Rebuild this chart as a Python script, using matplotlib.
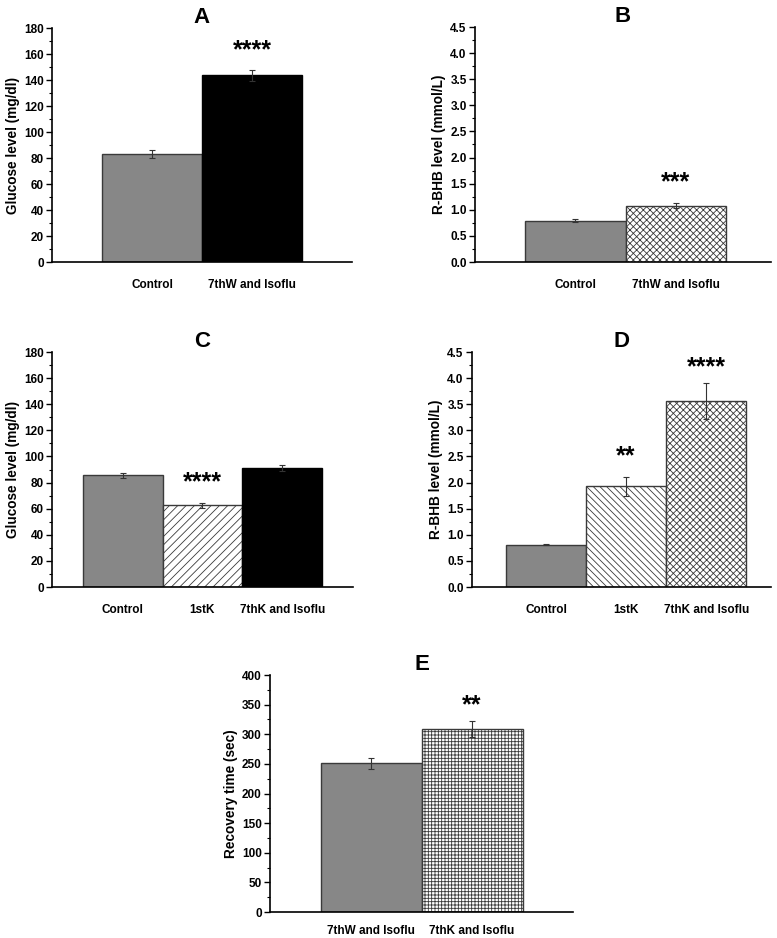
import matplotlib
matplotlib.use("Agg")
import matplotlib.pyplot as plt
from matplotlib.ticker import MultipleLocator

plt.rcParams['font.family'] = ['Liberation Sans', 'DejaVu Sans']
plt.rcParams['font.weight'] = 'bold'
plt.rcParams['hatch.linewidth'] = 0.6

# panel A
a_labels = ["Control", "7thW and Isoflu"]
a_values = [83, 143.5]
a_errors = [3, 4]
a_stars = ["", "****"]

# panel B
b_labels = ["Control", "7thW and Isoflu"]
b_values = [0.79, 1.08]
b_errors = [0.03, 0.05]
b_stars = ["", "***"]

# panel C
c_labels = ["Control", "1stK", "7thK and Isoflu"]
c_values = [85.5, 62.5, 91]
c_errors = [1.8, 2.2, 2.5]
c_stars = ["", "****", ""]

# panel D
d_labels = ["Control", "1stK", "7thK and Isoflu"]
d_values = [0.81, 1.93, 3.56]
d_errors = [0.015, 0.18, 0.34]
d_stars = ["", "**", "****"]

# panel E
e_labels = ["7thW and Isoflu", "7thK and Isoflu"]
e_values = [251, 309]
e_errors = [9, 14]
e_stars = ["", "**"]

GREY = "#878787"
W, H = 777, 938


def px_axes(fig, left, right, top, bottom):
    return fig.add_axes([left / W, (H - bottom) / H, (right - left) / W, (bottom - top) / H])


def draw_panel(ax, title, labels, values, errors, stars, colors, hatches,
               ylim, major, minor, ylabel, xlim, star_y, xpad=12):
    x = list(range(1, len(values) + 1))
    for i in range(len(values)):
        ec = "black" if colors[i] == "black" else "#3a3a3a"
        ax.bar(x[i], values[i], width=1.0, color=colors[i], edgecolor=ec,
               hatch=hatches[i], linewidth=1.0, zorder=2)
    ax.errorbar(x, values, yerr=errors, fmt="none", ecolor="#333333",
                elinewidth=0.8, capsize=2.5, capthick=0.8, zorder=3)
    for i, s in enumerate(stars):
        if s:
            ax.text(x[i], star_y[i], s, ha="center", va="center",
                    fontsize=18, fontweight="bold")
    ax.set_xlim(*xlim)
    ax.set_ylim(*ylim)
    ax.yaxis.set_major_locator(MultipleLocator(major))
    ax.yaxis.set_minor_locator(MultipleLocator(minor))
    ax.set_xticks(x)
    ax.set_xticklabels(labels, fontsize=8.5, fontweight="bold")
    ax.tick_params(axis="x", length=0, pad=xpad)
    ax.tick_params(axis="y", which="major", length=4, width=1, labelsize=8.5, pad=2)
    ax.tick_params(axis="y", which="minor", length=2.5, width=0.8)
    for lab in ax.get_yticklabels():
        lab.set_fontweight("bold")
    ax.spines["top"].set_visible(False)
    ax.spines["right"].set_visible(False)
    ax.spines["left"].set_linewidth(1.2)
    ax.spines["bottom"].set_linewidth(1.2)
    ax.set_ylabel(ylabel, fontsize=9.8, fontweight="bold", labelpad=3)
    ax.set_title(title, fontsize=16, fontweight="bold", pad=3)


fig = plt.figure(figsize=(W / 100, H / 100), dpi=100)

axA = px_axes(fig, 52, 352, 28, 262)
draw_panel(axA, "A", a_labels, a_values, a_errors, a_stars,
           [GREY, "black"], ["", ""], (0, 180), 20, 10,
           "Glucose level (mg/dl)", (0, 3), [0, 163])

axB = px_axes(fig, 475, 771, 27, 262)
draw_panel(axB, "B", b_labels, b_values, b_errors, b_stars,
           [GREY, "white"], ["", "xxxxx"], (0, 4.5), 0.5, 0.25,
           "R-BHB level (mmol/L)", (0, 2.95), [0, 1.52])

axC = px_axes(fig, 52, 353, 352, 587)
draw_panel(axC, "C", c_labels, c_values, c_errors, c_stars,
           [GREY, "white", "black"], ["", "////", ""], (0, 180), 20, 10,
           "Glucose level (mg/dl)", (0.11, 3.89), [0, 80, 0])

axD = px_axes(fig, 472, 771, 352, 587)
draw_panel(axD, "D", d_labels, d_values, d_errors, d_stars,
           [GREY, "white", "white"], ["", "\\\\\\\\\\", "xxxxx"], (0, 4.5), 0.5, 0.25,
           "R-BHB level (mmol/L)", (0.075, 3.81), [0, 2.5, 4.2])

axE = px_axes(fig, 270, 573, 675, 912)
draw_panel(axE, "E", e_labels, e_values, e_errors, e_stars,
           [GREY, "white"], ["", "+++++"], (0, 400), 50, 25,
           "Recovery time (sec)", (0, 3), [0, 348], xpad=9)

fig.savefig("out.png", dpi=100)
